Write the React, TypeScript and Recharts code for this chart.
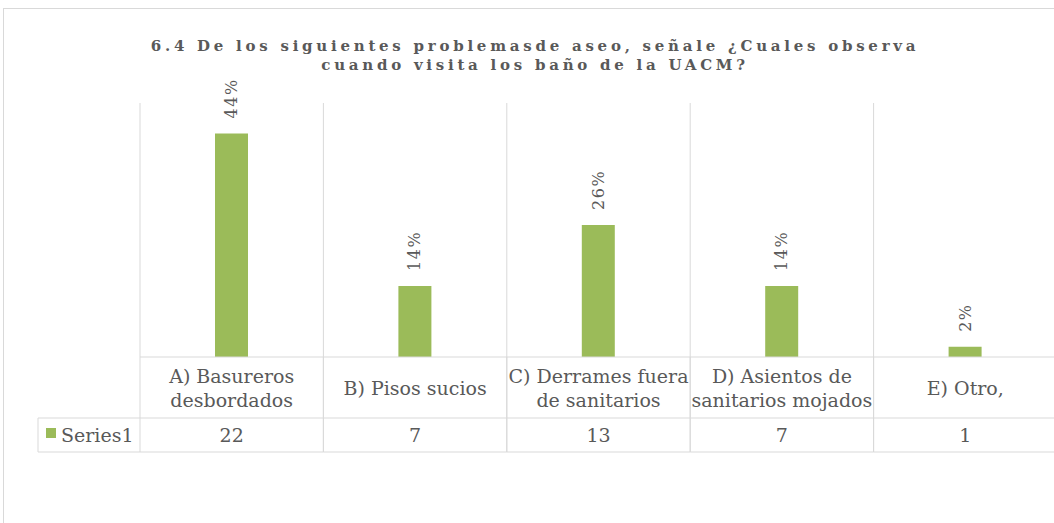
import React from 'react';
import { BarChart, Bar, XAxis, YAxis, CartesianGrid, LabelList } from 'recharts';

// problemas de aseo en los baños (respuestas)
const categories = [
  'A) Basureros desbordados',
  'B) Pisos sucios',
  'C) Derrames fuera de sanitarios',
  'D) Asientos de sanitarios mojados',
  'E) Otro,',
];
const series1 = [22, 7, 13, 7, 1];
const seriesName = 'Series1';
const titleLines = [
  '6.4 De los siguientes problemasde aseo, señale ¿Cuales observa',
  'cuando visita los baño de la UACM?',
];

const data = categories.map((c, i) => ({ name: c, value: series1[i] }));
const total = series1.reduce((a, b) => a + b, 0);

const W = 1070;
const H = 523;
const M = { top: 103, right: 13, bottom: 71, left: 140 };
const PLOT_W = W - M.left - M.right;
const BAND = PLOT_W / categories.length;
const AXIS_Y = H - M.bottom - 95;
const ROW1 = AXIS_Y + 61;
const ROW2 = ROW1 + 34;
const GRID = '#D9D9D9';
const TXT = '#595959';
const FONT = '"DejaVu Serif", serif';
const GREEN = '#9BBB59';

function wrap(s: string, max = 18) {
  const out: string[] = [];
  let cur = '';
  for (const w of s.split(' ')) {
    const next = cur ? cur + ' ' + w : w;
    if (next.length > max && cur) {
      out.push(cur);
      cur = w;
    } else cur = next;
  }
  if (cur) out.push(cur);
  return out;
}

const TableTick = (props: any) => {
  const { x, payload, index } = props;
  const lines = wrap(payload.value);
  const lh = 24;
  const mid = AXIS_Y + 31;
  const y0 = mid - ((lines.length - 1) * lh) / 2 + 7;
  const l = x - BAND / 2;
  const r = x + BAND / 2;
  return (
    <g>
      <line x1={l} x2={l} y1={AXIS_Y} y2={ROW2} stroke={GRID} />
      <line x1={r} x2={r} y1={AXIS_Y} y2={ROW2} stroke={GRID} />
      <line x1={l} x2={r} y1={ROW1} y2={ROW1} stroke={GRID} />
      <line x1={l} x2={r} y1={ROW2} y2={ROW2} stroke={GRID} />
      {lines.map((t, i) => (
        <text key={i} x={x} y={y0 + i * lh} textAnchor="middle" fill={TXT} fontSize={19} fontFamily={FONT}>
          {t}
        </text>
      ))}
      <text x={x} y={ROW1 + 24} textAnchor="middle" fill={TXT} fontSize={19} fontFamily={FONT}>
        {series1[index]}
      </text>
      {index === 0 && (
        <g>
          <line x1={38} x2={l} y1={ROW1} y2={ROW1} stroke={GRID} />
          <line x1={38} x2={l} y1={ROW2} y2={ROW2} stroke={GRID} />
          <line x1={38} x2={38} y1={ROW1} y2={ROW2} stroke={GRID} />
          <rect x={46} y={ROW1 + 10} width={10} height={10} fill={GREEN} />
          <text x={61} y={ROW1 + 24} fill={TXT} fontSize={19} fontFamily={FONT}>
            {seriesName}
          </text>
        </g>
      )}
    </g>
  );
};

const PctLabel = (props: any) => {
  const { x, y, width, value } = props;
  const cx = x + width / 2;
  const cy = y - 15;
  return (
    <text
      x={cx}
      y={cy}
      transform={`rotate(-90 ${cx} ${cy})`}
      textAnchor="start"
      dominantBaseline="central"
      fill={TXT}
      fontSize={16}
      letterSpacing={1.5}
      fontFamily={FONT}
    >
      {`${Math.round((value / total) * 100)}%`}
    </text>
  );
};

export default function App() {
  return (
    <div style={{ position: 'fixed', left: 0, top: 0, width: 1054, height: 523, overflow: 'hidden', background: '#fff' }}>
      <div
        style={{
          position: 'absolute',
          left: 3,
          top: 8,
          right: -10,
          bottom: -10,
          borderLeft: '1px solid ' + GRID,
          borderTop: '1px solid ' + GRID,
        }}
      />
      <div
        style={{
          position: 'absolute',
          left: 0,
          top: 37,
          width: 1070,
          textAlign: 'center',
          fontFamily: FONT,
          fontWeight: 'bold',
          fontSize: 15,
          letterSpacing: 3.75,
          lineHeight: '19px',
          color: TXT,
        }}
      >
        {titleLines.map((t, i) => (
          <div key={i}>{t}</div>
        ))}
      </div>
      <div style={{ position: 'absolute', left: 0, top: 0 }}>
        <BarChart width={W} height={H} data={data} margin={M} barCategoryGap={0}>
          <CartesianGrid
            horizontal={false}
            stroke={GRID}
            strokeDasharray=""
            verticalCoordinatesGenerator={({ offset }: any) =>
              categories.map((_, i) => offset.left + i * (offset.width / categories.length))
            }
          />
          <XAxis
            dataKey="name"
            height={95}
            interval={0}
            tickLine={false}
            axisLine={{ stroke: GRID }}
            tick={<TableTick />}
          />
          <YAxis hide domain={[0, 25]} />
          <Bar dataKey="value" name={seriesName} fill={GREEN} barSize={33} isAnimationActive={false}>
            <LabelList dataKey="value" content={<PctLabel />} />
          </Bar>
        </BarChart>
      </div>
    </div>
  );
}
